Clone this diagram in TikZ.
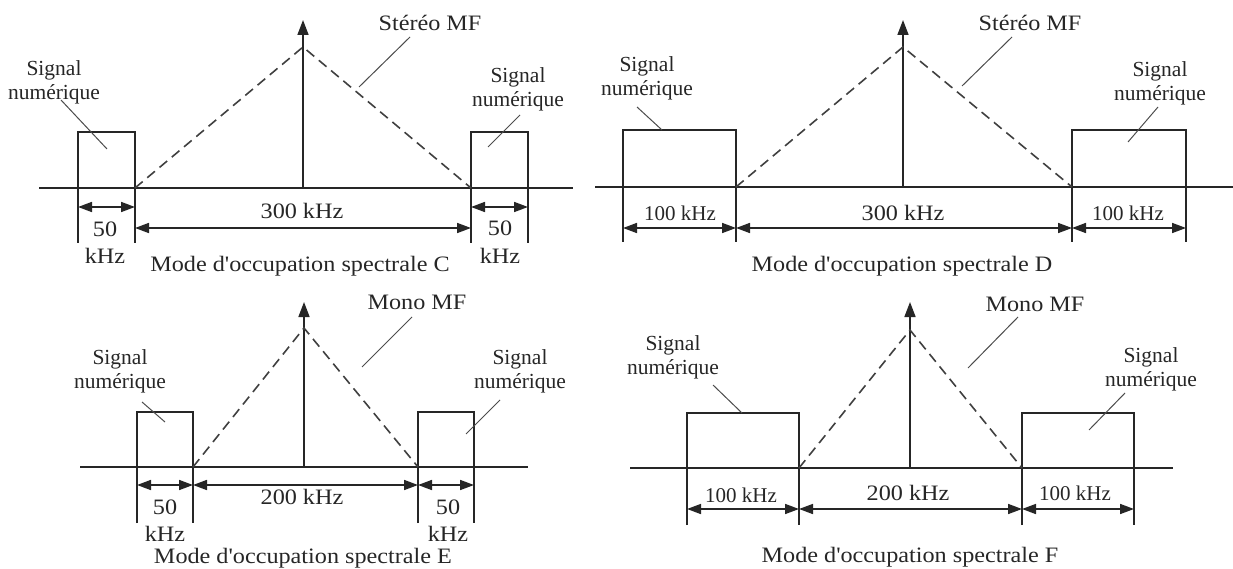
\documentclass[tikz,border=0pt]{standalone}
\usepackage{fontspec}
\setmainfont{Liberation Serif}
\newfontfamily\widefont[FakeStretch=1.1]{Liberation Serif}
\usetikzlibrary{arrows.meta}
\tikzset{
  ln/.style={line width=1.6pt, black!85},
  dsh/.style={line width=1.6pt, black!75, dash pattern=on 10pt off 6pt},
  leader/.style={line width=1pt, black!70},
  axarrow/.style={line width=1.6pt, black!85, -{Triangle[length=15pt,width=11pt]}},
  dimarrow/.style={line width=1.6pt, black!85, {Triangle[length=14pt,width=10pt]}-{Triangle[length=14pt,width=10pt]}},
  big/.style={font=\widefont\fontsize{22}{24}\selectfont, inner sep=0pt, text=black!85},
  sig/.style={font=\fontsize{21.5}{24}\selectfont, align=center, inner sep=0pt, text=black!85},
  hz/.style={font=\fontsize{21}{24}\selectfont, inner sep=0pt, text=black!85},
}
\begin{document}
\begin{tikzpicture}[x=1pt,y=-1pt]
\useasboundingbox (0,0) rectangle (1233,569);
\fill[white] (0,0) rectangle (1233,569);

% ===== Panel C =====
\draw[ln] (39,188) -- (573,188);
\draw[ln] (78,243) -- (78,132) -- (135,132) -- (135,243);
\draw[ln] (471,243) -- (471,132) -- (528,132) -- (528,243);
\coordinate (cB) at (303,188);
\coordinate (cT) at (303,20);
\coordinate (cApex) at (303,47);
\coordinate (cL) at (135,188);
\coordinate (cR) at (471,188);
\draw[axarrow] (cB) -- (cT);
\draw[dsh] (cL) -- (cApex) -- (cR);
\coordinate (cd1) at (78,207); \coordinate (cd2) at (135,207);
\coordinate (cd3) at (135,228); \coordinate (cd4) at (471,228);
\coordinate (cd5) at (471,207); \coordinate (cd6) at (528,207);
\draw[dimarrow] (cd1) -- (cd2);
\draw[dimarrow] (cd3) -- (cd4);
\draw[dimarrow] (cd5) -- (cd6);
\node[big] (c50a) at (105,229) {50};
\node[big] (ckHza) at (105,256) {kHz};
\node[big] (c50b) at (500,228) {50};
\node[big] (ckHzb) at (500,256) {kHz};
\node[big] (c300) at (302,211) {300 kHz};
\node[big] (ctitle) at (300,266) {Mode d'occupation spectrale C};
\node[big] (cstereo) at (430,23) {Stéréo MF};
\coordinate (cs1) at (410,37); \coordinate (cs2) at (359,87);
\draw[leader] (cs1) -- (cs2);
\node[sig] (csigL) at (54,82) {Signal\\numérique};
\coordinate (cl1) at (61,100); \coordinate (cl2) at (107,149);
\draw[leader] (cl1) -- (cl2);
\node[sig] (csigR) at (518,89) {Signal\\numérique};
\coordinate (cr1) at (520,115); \coordinate (cr2) at (488,147);
\draw[leader] (cr1) -- (cr2);

% ===== Panel D =====
\draw[ln] (595,187) -- (1233,187);
\draw[ln] (623,242) -- (623,130) -- (736,130) -- (736,242);
\draw[ln] (1072,242) -- (1072,130) -- (1186,130) -- (1186,242);
\coordinate (dB) at (903,187);
\coordinate (dT) at (903,20);
\coordinate (dApex) at (903,47);
\coordinate (dL) at (736,187);
\coordinate (dR) at (1072,187);
\draw[axarrow] (dB) -- (dT);
\draw[dsh] (dL) -- (dApex) -- (dR);
\coordinate (dd1) at (623,228); \coordinate (dd2) at (736,228);
\coordinate (dd3) at (1072,228); \coordinate (dd4) at (1186,228);
\draw[dimarrow] (dd1) -- (dd2);
\draw[dimarrow] (dd2) -- (dd3);
\draw[dimarrow] (dd3) -- (dd4);
\node[hz] (d100a) at (680,213) {100 kHz};
\node[big] (d300) at (903,213) {300 kHz};
\node[hz] (d100b) at (1128,213) {100 kHz};
\node[big] (dtitle) at (902,266) {Mode d'occupation spectrale D};
\node[big] (dstereo) at (1030,23) {Stéréo MF};
\coordinate (ds1) at (1012,37); \coordinate (ds2) at (962,86);
\draw[leader] (ds1) -- (ds2);
\node[sig] (dsigL) at (647,78) {Signal\\numérique};
\coordinate (dl1) at (637,107); \coordinate (dl2) at (662,130);
\draw[leader] (dl1) -- (dl2);
\node[sig] (dsigR) at (1160,83) {Signal\\numérique};
\coordinate (dr1) at (1158,107); \coordinate (dr2) at (1128,142);
\draw[leader] (dr1) -- (dr2);

% ===== Panel E =====
\draw[ln] (80,467) -- (528,467);
\draw[ln] (137,523) -- (137,412) -- (193,412) -- (193,523);
\draw[ln] (418,523) -- (418,412) -- (474,412) -- (474,523);
\coordinate (eB) at (304,467);
\coordinate (eT) at (304,302);
\coordinate (eApex) at (304,328);
\coordinate (eL) at (193,467);
\coordinate (eR) at (418,467);
\draw[axarrow] (eB) -- (eT);
\draw[dsh] (eL) -- (eApex) -- (eR);
\coordinate (ed1) at (137,485); \coordinate (ed2) at (193,485);
\coordinate (ed3) at (418,485); \coordinate (ed4) at (474,485);
\draw[dimarrow] (ed1) -- (ed2);
\draw[dimarrow] (ed2) -- (ed3);
\draw[dimarrow] (ed3) -- (ed4);
\node[big] (e50a) at (165,507) {50};
\node[big] (ekHza) at (165,534) {kHz};
\node[big] (e50b) at (448,507) {50};
\node[big] (ekHzb) at (448,534) {kHz};
\node[big] (e200) at (302,497) {200 kHz};
\node[big] (etitle) at (303,558) {Mode d'occupation spectrale E};
\node[big] (emono) at (417,302) {Mono MF};
\coordinate (em1) at (412,317); \coordinate (em2) at (362,367);
\draw[leader] (em1) -- (em2);
\node[sig] (esigL) at (120,371) {Signal\\numérique};
\coordinate (el1) at (142,402); \coordinate (el2) at (165,422);
\draw[leader] (el1) -- (el2);
\node[sig] (esigR) at (520,371) {Signal\\numérique};
\coordinate (er1) at (500,400); \coordinate (er2) at (466,434);
\draw[leader] (er1) -- (er2);

% ===== Panel F =====
\draw[ln] (630,468) -- (1173,468);
\draw[ln] (687,525) -- (687,413) -- (799,413) -- (799,525);
\draw[ln] (1022,525) -- (1022,413) -- (1134,413) -- (1134,525);
\coordinate (fB) at (910,468);
\coordinate (fT) at (910,302);
\coordinate (fApex) at (910,330);
\coordinate (fL) at (799,468);
\coordinate (fR) at (1022,468);
\draw[axarrow] (fB) -- (fT);
\draw[dsh] (fL) -- (fApex) -- (fR);
\coordinate (fd1) at (687,509); \coordinate (fd2) at (799,509);
\coordinate (fd3) at (1022,509); \coordinate (fd4) at (1134,509);
\draw[dimarrow] (fd1) -- (fd2);
\draw[dimarrow] (fd2) -- (fd3);
\draw[dimarrow] (fd3) -- (fd4);
\node[hz] (f100a) at (741,495) {100 kHz};
\node[big] (f200) at (908,493) {200 kHz};
\node[hz] (f100b) at (1075,493) {100 kHz};
\node[big] (ftitle) at (910,557) {Mode d'occupation spectrale F};
\node[big] (fmono) at (1035,304) {Mono MF};
\coordinate (fm1) at (1018,317); \coordinate (fm2) at (968,368);
\draw[leader] (fm1) -- (fm2);
\node[sig] (fsigL) at (673,357) {Signal\\numérique};
\coordinate (fl1) at (713,385); \coordinate (fl2) at (742,413);
\draw[leader] (fl1) -- (fl2);
\node[sig] (fsigR) at (1151,369) {Signal\\numérique};
\coordinate (fr1) at (1125,393); \coordinate (fr2) at (1089,430);
\draw[leader] (fr1) -- (fr2);
\end{tikzpicture}
\end{document}
